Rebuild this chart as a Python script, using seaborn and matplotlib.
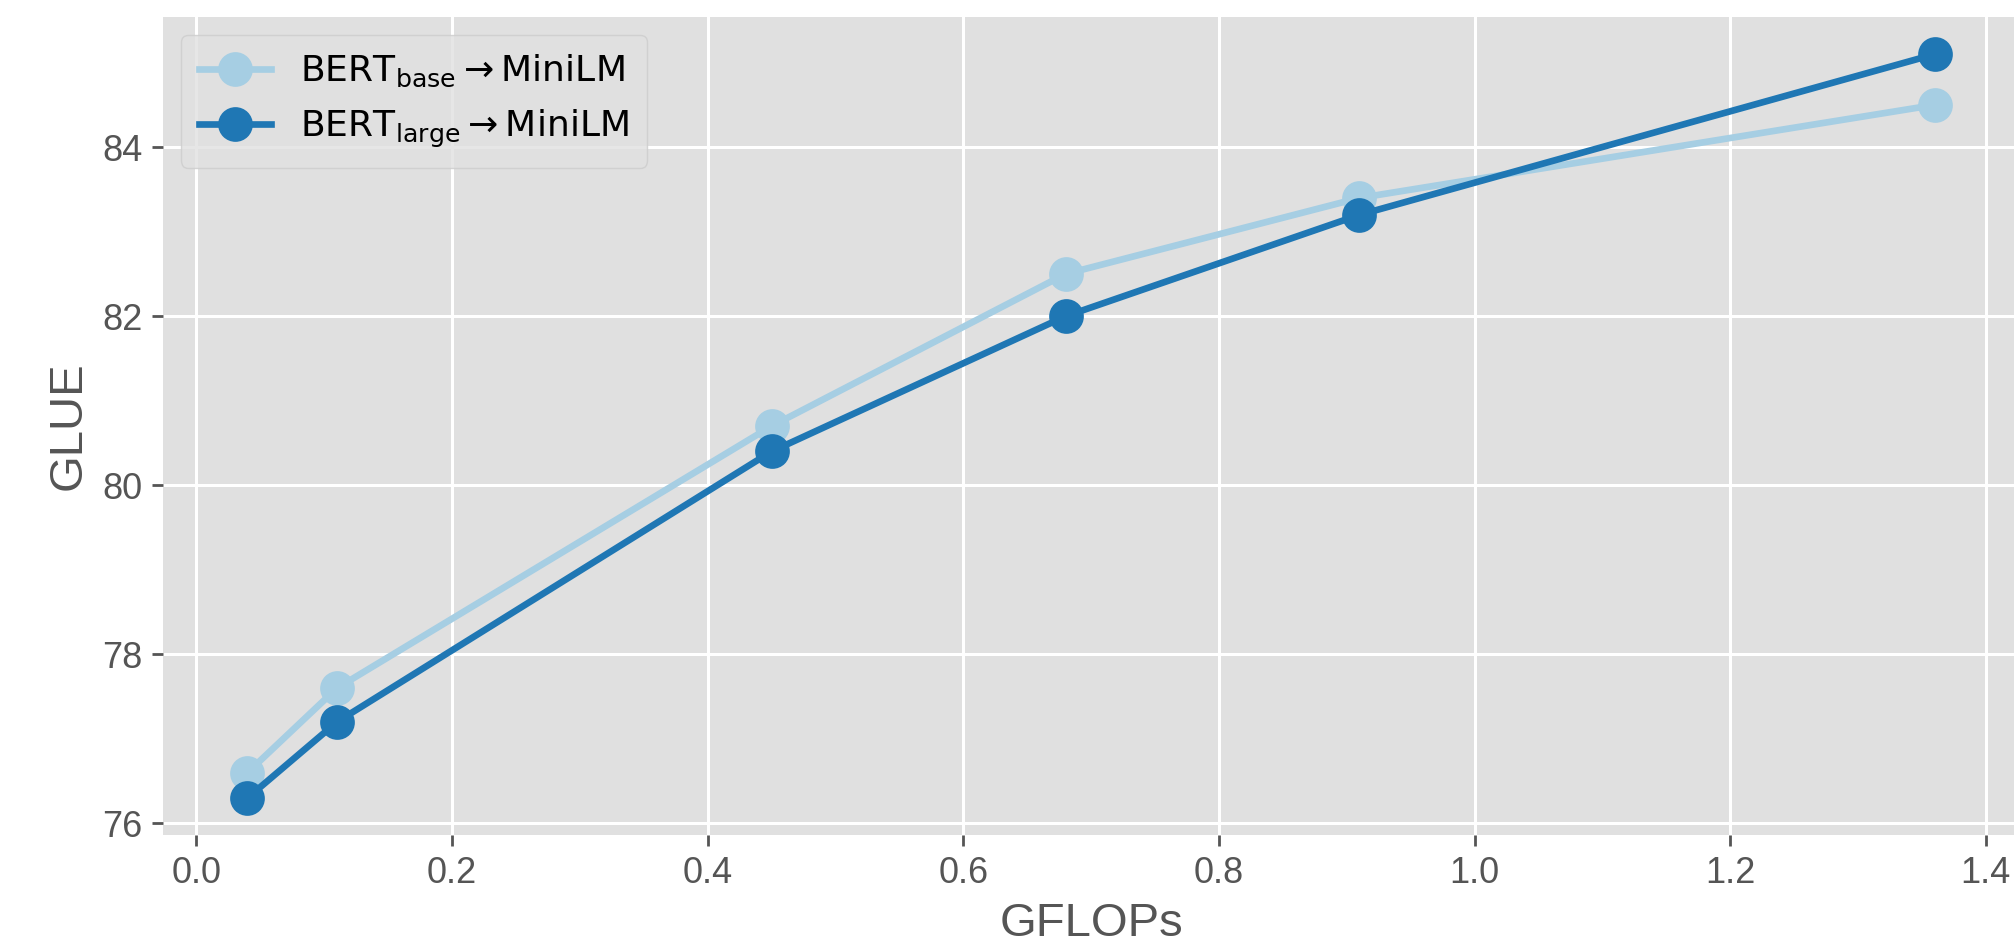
import matplotlib
matplotlib.use("Agg")
import matplotlib.pyplot as plt
import seaborn as sns
import pandas as pd

gflops = [0.04, 0.11, 0.45, 0.68, 0.91, 1.36]
glue_base = [76.6, 77.6, 80.7, 82.5, 83.4, 84.5]
glue_large = [76.3, 77.2, 80.4, 82.0, 83.2, 85.1]
series_names = [r"BERT$_{\rm base}$$\rightarrow$MiniLM", r"BERT$_{\rm large}$$\rightarrow$MiniLM"]
colors = ["#a6cee3", "#1f77b4"]

df = pd.DataFrame({
    "GFLOPs": gflops * 2,
    "GLUE": glue_base + glue_large,
    "model": [series_names[0]] * len(gflops) + [series_names[1]] * len(gflops),
})

plt.style.use("ggplot")
plt.rcParams["font.family"] = ["Liberation Sans", "DejaVu Sans"]

fig = plt.figure(figsize=(10.07, 4.74), dpi=200)
ax = fig.add_axes([0.081, 0.119, 0.9215, 0.863])
ax.set_facecolor("#E0E0E0")

sns.lineplot(data=df, x="GFLOPs", y="GLUE", hue="model", palette=colors,
             marker="o", markersize=12.5, markeredgewidth=0, linewidth=2.4,
             ax=ax, legend=True)

ax.set_xlim(-0.026, 1.426)
ax.set_ylim(75.86, 85.54)
ax.set_xticks([0.0, 0.2, 0.4, 0.6, 0.8, 1.0, 1.2, 1.4])
ax.set_yticks([76, 78, 80, 82, 84])
ax.grid(True, color="white", linewidth=1.1)
ax.tick_params(axis="both", colors="#555555", labelsize=13, length=4, width=1, direction="out")
ax.set_xlabel("GFLOPs", fontsize=17, color="#555555")
ax.set_ylabel("GLUE", fontsize=17, color="#555555")
for s in ax.spines.values():
    s.set_visible(False)

leg = ax.legend(loc="upper left", prop={"family": "DejaVu Sans", "size": 13},
                frameon=True, facecolor="#E0E0E0", edgecolor="#cccccc",
                framealpha=0.8, borderpad=0.5, handlelength=2.0)
for t in leg.get_texts():
    t.set_color("black")

fig.savefig("out.png", dpi=200)
